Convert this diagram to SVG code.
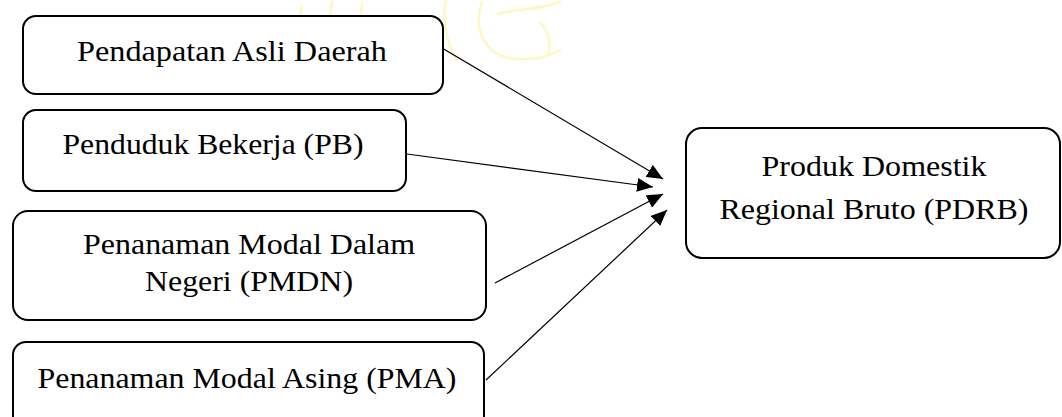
<svg xmlns="http://www.w3.org/2000/svg" width="1062" height="417" viewBox="0 0 1062 417">
<style>
.box{fill:#fff;stroke:#000;stroke-width:2}
.t{font-family:"Liberation Serif","Times New Roman",serif;font-size:29px;fill:#000;text-anchor:middle}
.c{stroke:#000;stroke-width:1.2;fill:none}
.wm{fill:none;stroke:#fff7c2;stroke-width:2.5;stroke-linecap:round}
</style>
<defs>
<marker id="ah" markerUnits="userSpaceOnUse" markerWidth="17" markerHeight="14" refX="16" refY="7" orient="auto">
<path d="M0,0 L16,7 L0,14 Z" fill="#000"/>
</marker>
</defs>
<rect width="1062" height="417" fill="#fff"/>
<g id="watermark">
<path class="wm" d="M230,32 C248,24 268,28 288,22"/>
<path class="wm" d="M302,6 C298,24 300,44 306,60"/>
<path class="wm" d="M332,2 C328,22 332,42 340,58"/>
<path class="wm" d="M362,4 C358,24 364,44 372,56"/>
<path class="wm" d="M446,0 C441,20 446,40 456,60"/>
<path class="wm" d="M482,2 C476,18 478,34 488,46 C502,64 540,62 560,50"/>
<path class="wm" d="M498,14 C518,8 540,10 560,2"/>
<path class="wm" d="M540,22 C548,32 552,42 548,56"/>
</g>
<g id="n1"><rect class="box" x="23" y="16" width="420" height="78" rx="13"/><text class="t" x="232" y="61" textLength="310" lengthAdjust="spacingAndGlyphs">Pendapatan Asli Daerah</text></g>
<g id="n2"><rect class="box" x="23" y="110" width="383" height="81" rx="13"/><text class="t" x="213" y="154" textLength="301" lengthAdjust="spacingAndGlyphs">Penduduk Bekerja (PB)</text></g>
<g id="n3"><rect class="box" x="13" y="211" width="473" height="109" rx="15"/><text class="t" x="249" y="254" textLength="332" lengthAdjust="spacingAndGlyphs">Penanaman Modal Dalam</text><text class="t" x="249" y="291" textLength="208" lengthAdjust="spacingAndGlyphs">Negeri (PMDN)</text></g>
<g id="n4"><rect class="box" x="13" y="342" width="471" height="90" rx="13"/><text class="t" x="247" y="388" textLength="419" lengthAdjust="spacingAndGlyphs">Penanaman Modal Asing (PMA)</text></g>
<g id="n5"><rect class="box" x="686" y="128" width="374" height="130" rx="16"/><text class="t" x="874" y="176" textLength="225" lengthAdjust="spacingAndGlyphs">Produk Domestik</text><text class="t" x="874" y="219" textLength="309" lengthAdjust="spacingAndGlyphs">Regional Bruto (PDRB)</text></g>
<g id="connectors">
<line class="c" x1="442" y1="48" x2="663" y2="179" marker-end="url(#ah)"/>
<line class="c" x1="407" y1="154" x2="653" y2="187" marker-end="url(#ah)"/>
<line class="c" x1="495" y1="283" x2="663" y2="194" marker-end="url(#ah)"/>
<line class="c" x1="486" y1="380" x2="667" y2="210" marker-end="url(#ah)"/>
</g>
</svg>
